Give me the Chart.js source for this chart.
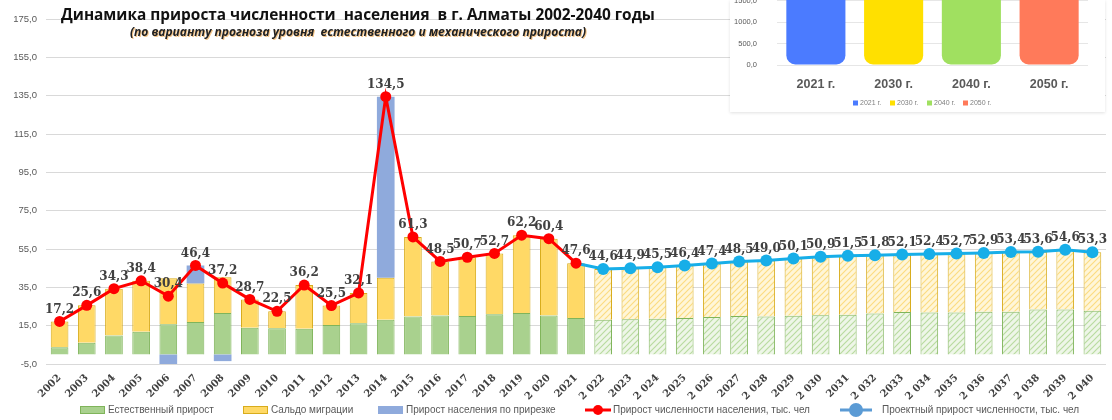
<!DOCTYPE html>
<html>
<head>
<meta charset="utf-8">
<script src="https://cdn.jsdelivr.net/npm/chart.js"></script>
<style>
  html, body { margin: 0; padding: 0; background: #fff; }
  #wrap { position: relative; width: 1112px; height: 420px; overflow: hidden; }
  #main { position: absolute; left: 0; top: 0; }
  #title { position: absolute; left: 0; top: 4px; width: 716px; text-align: center;
    font: bold 15.4px "Open Sans", "Liberation Sans", sans-serif; color: #111; white-space: pre; }
  #subtitle { position: absolute; left: 0; top: 23px; width: 716px; text-align: center;
    font: italic bold 12px "Open Sans", "Liberation Sans", sans-serif; color: #222; white-space: pre;
    text-shadow: 1px 1px 0 rgba(235, 150, 40, 0.55); }
  #insetBox { position: absolute; left: 730px; top: 0; width: 375px; height: 112px; background: #fff;
    overflow: hidden; box-shadow: 0 1px 3px rgba(0,0,0,0.12); }
  #inset { position: absolute; left: 0; top: -30px; }
</style>
</head>
<body>
<div id="wrap">
  <canvas id="main" width="1112" height="420"></canvas>
  <div id="title">Динамика прироста численности  населения  в г. Алматы 2002-2040 годы</div>
  <div id="subtitle">(по варианту прогноза уровня  естественного и механического прироста)</div>
  <div id="insetBox"><canvas id="inset" width="375" height="142"></canvas></div>
</div>
<script>
// categories
const years = ['2002','2003','2004','2005','2006','2007','2008','2009','2010','2011','2012','2013',
  '2014','2015','2016','2017','2018','2019','2 020','2021','2 022','2023','2 024','2025','2 026',
  '2027','2 028','2029','2 030','2031','2 032','2033','2 034','2035','2 036','2037','2 038','2039','2 040'];

// bars (тыс. чел)
const natural = [3.7, 6.1, 9.9, 11.8, 15.7, 16.9, 21.6, 13.9, 13.6, 13.4, 15.3, 16.2, 18.1, 19.8, 20.3,
  20.0, 20.9, 21.6, 20.3, 19.0,
  18.1, 18.4, 18.6, 19.0, 19.5, 20.0, 19.8, 20.2, 20.5, 20.7, 21.4, 22.1, 21.9, 21.9, 22.3, 22.3, 23.5, 23.5, 22.8];
const migration = [13.5, 19.5, 24.4, 26.6, 24.0, 20.1, 18.6, 14.8, 8.9, 22.8, 10.2, 15.9, 21.9, 41.5, 28.2,
  30.7, 31.8, 40.6, 40.1, 28.6,
  26.5, 26.5, 26.9, 27.4, 27.9, 28.5, 29.2, 29.9, 30.4, 30.8, 30.4, 30.0, 30.5, 30.8, 30.6, 31.1, 30.1, 31.1, 30.5];
const annexed = [null, null, null, null, -9.3, 9.4, -3.5, null, null, null, null, null, 94.5];

// lines
const totalGrowth = [17.2, 25.6, 34.3, 38.4, 30.4, 46.4, 37.2, 28.7, 22.5, 36.2, 25.5, 32.1, 134.5, 61.3,
  48.5, 50.7, 52.7, 62.2, 60.4, 47.6];
const projectGrowth = [null, null, null, null, null, null, null, null, null, null, null, null, null, null,
  null, null, null, null, null, 47.6,
  44.6, 44.9, 45.5, 46.4, 47.4, 48.5, 49.0, 50.1, 50.9, 51.5, 51.8, 52.1, 52.4, 52.7, 52.9, 53.4, 53.6, 54.6, 53.3];

const yTicks = { min: -5, max: 175, step: 20 };

// inset (cylinders are cut off at the top in the original)
const popYears = ['2021 г.', '2030 г.', '2040 г.', '2050 г.'];
const popValues = [2100, 2500, 2900, 3300];
const popTicks = { min: 0, max: 2000, step: 500 };

const firstProjected = 20;

function hatch(bg, fg) {
  const c = document.createElement('canvas');
  c.width = 6; c.height = 6;
  const g = c.getContext('2d');
  g.fillStyle = bg; g.fillRect(0, 0, 6, 6);
  g.strokeStyle = fg; g.lineWidth = 1.2;
  g.beginPath();
  g.moveTo(0, 6); g.lineTo(6, 0);
  g.moveTo(-3, 3); g.lineTo(3, -3);
  g.moveTo(3, 9); g.lineTo(9, 3);
  g.stroke();
  return g.createPattern(c, 'repeat');
}
const greenHatch = hatch('#eef6e8', '#b9dba0');
const yellowHatch = hatch('#fff6d8', '#fbdc82');
const greenFill = years.map((_, i) => i < firstProjected ? '#a9d18e' : greenHatch);
const yellowFill = years.map((_, i) => i < firstProjected ? '#ffd966' : yellowHatch);

const comma = v => v.toFixed(1).replace('.', ',');

const valueLabels = {
  id: 'valueLabels',
  afterDatasetsDraw(chart) {
    const ctx = chart.ctx;
    ctx.save();
    ctx.font = 'bold 12px "DejaVu Serif", serif';
    ctx.fillStyle = '#404040';
    ctx.textAlign = 'center';
    ctx.textBaseline = 'bottom';
    chart.data.datasets.forEach((ds, i) => {
      if (!ds.showValues) return;
      chart.getDatasetMeta(i).data.forEach((pt, j) => {
        const v = ds.data[j];
        if (v == null || j < ds.labelFrom) return;
        ctx.fillText(comma(v), pt.x, pt.y - 6);
      });
    });
    ctx.restore();
  }
};

// bottom legend, drawn by hand to keep the original spacing
const legendSlots = [80, 243, 378, 585, 840];
const bottomLegend = {
  id: 'bottomLegend',
  afterDraw(chart) {
    const ctx = chart.ctx;
    const y = 410;
    ctx.save();
    ctx.font = '10px "Liberation Sans", sans-serif';
    ctx.textBaseline = 'middle';
    chart.data.datasets.forEach((ds, i) => {
      const x = legendSlots[i];
      if (ds.type === 'line') {
        const col = ds.legendColor || ds.borderColor;
        const w = ds.legendLine;
        ctx.strokeStyle = col; ctx.lineWidth = 3;
        ctx.beginPath(); ctx.moveTo(x, y); ctx.lineTo(x + w, y); ctx.stroke();
        ctx.fillStyle = col;
        ctx.beginPath(); ctx.arc(x + w / 2, y, ds.legendDot, 0, Math.PI * 2); ctx.fill();
        ctx.fillStyle = '#595959';
        ctx.fillText(ds.label, x + w + ds.legendGap, y);
      } else {
        ctx.fillStyle = ds.legendColor;
        ctx.fillRect(x, y - 4, 25, 8);
        ctx.strokeStyle = ds.borderColor; ctx.lineWidth = 1;
        ctx.strokeRect(x + 0.5, y - 3.5, 24, 7);
        ctx.fillStyle = '#595959';
        ctx.fillText(ds.label, x + 28, y);
      }
    });
    ctx.restore();
  }
};

new Chart(document.getElementById('main'), {
  data: {
    labels: years,
    datasets: [
      { type: 'bar', label: 'Естественный прирост', data: natural, stack: 'bars', order: 2,
        backgroundColor: greenFill, legendColor: '#a9d18e', borderColor: '#7fb45a', borderWidth: 1,
        barPercentage: 0.65, categoryPercentage: 1 },
      { type: 'bar', label: 'Сальдо миграции', data: migration, stack: 'bars', order: 2,
        backgroundColor: yellowFill, legendColor: '#ffd966', borderColor: '#d8ac1c', borderWidth: 1,
        barPercentage: 0.65, categoryPercentage: 1 },
      { type: 'bar', label: 'Прирост населения по прирезке', data: annexed, stack: 'bars', order: 2,
        backgroundColor: '#8faadc', legendColor: '#8faadc', borderColor: '#8faadc', borderWidth: 0,
        barPercentage: 0.65, categoryPercentage: 1 },
      { type: 'line', label: 'Прирост численности населения, тыс. чел', data: totalGrowth, stack: 'red', order: 0,
        borderColor: '#ff0000', backgroundColor: '#ff0000', borderWidth: 3, pointRadius: 5.5,
        pointBorderWidth: 0, tension: 0, showValues: true, labelFrom: 0,
        legendDot: 5, legendLine: 26, legendGap: 2 },
      { type: 'line', label: 'Проектный прирост численности, тыс. чел', data: projectGrowth, stack: 'blue', order: 1,
        borderColor: '#17aee8', backgroundColor: '#17aee8', borderWidth: 3, legendColor: '#5b9bd5',
        pointRadius: years.map((_, i) => i < firstProjected ? 0 : 6), pointBorderWidth: 0, tension: 0,
        showValues: true, labelFrom: firstProjected,
        legendDot: 7, legendLine: 32, legendGap: 10 }
    ]
  },
  options: {
    responsive: false,
    animation: false,
    layout: { padding: { top: 19, right: 1, left: 0, bottom: 0 } },
    plugins: { legend: { display: false }, tooltip: { enabled: false } },
    scales: {
      x: {
        stacked: true,
        grid: { display: false },
        border: { display: false },
        ticks: { autoSkip: false, maxRotation: 45, minRotation: 45, color: '#404040', padding: 0,
          font: { family: '"DejaVu Serif", serif', weight: 'bold', size: 10 } },
        afterFit: s => { s.height = 56; }
      },
      y: {
        stacked: true,
        min: yTicks.min, max: yTicks.max,
        grid: { color: '#d9d9d9', lineWidth: 1, drawTicks: false },
        border: { display: false },
        ticks: { stepSize: yTicks.step, color: '#595959', padding: 9,
          font: { family: '"Liberation Sans", sans-serif', size: 9.5 },
          callback: v => comma(v) },
        afterFit: s => { s.width = 46; }
      }
    }
  },
  plugins: [valueLabels, bottomLegend]
});

// inset: 3D-like cylinders
const cylColors = [
  ['#2747c8', '#4b7bff', '#2a4bc0'],
  ['#c9a800', '#ffe000', '#b89400'],
  ['#5f9e2c', '#a0e060', '#5a9428'],
  ['#c84a30', '#ff7a5a', '#b8432c']
];
function cylinder(idx) {
  return ctx => {
    const el = ctx.element;
    const c = ctx.chart.ctx;
    if (!el || el.x == null || !el.width) return cylColors[idx][1];
    const l = el.x - el.width / 2, r = el.x + el.width / 2;
    const g = c.createLinearGradient(l, 0, r, 0);
    g.addColorStop(0, cylColors[idx][0]);
    g.addColorStop(0.55, cylColors[idx][1]);
    g.addColorStop(1, cylColors[idx][2]);
    return g;
  };
}
const insetLegendX = [123, 160, 197, 233];
const insetLegend = {
  id: 'insetLegend',
  afterDraw(chart) {
    const ctx = chart.ctx;
    const y = 133;
    ctx.save();
    ctx.font = '7px "Liberation Sans", sans-serif';
    ctx.textBaseline = 'middle';
    chart.data.datasets.forEach((ds, i) => {
      const x = insetLegendX[i];
      ctx.fillStyle = ds.legendColor;
      ctx.fillRect(x, y - 2.5, 5, 5);
      ctx.fillStyle = '#808080';
      ctx.fillText(ds.label, x + 7, y);
    });
    ctx.restore();
  }
};
// pin the inset plot area so that 0..2000 spans canvas y 95..9
const pinArea = {
  id: 'pinArea',
  afterLayout(chart) {
    const ys = chart.scales.y;
    chart.chartArea.top = 9;
    ys.top = 9;
    ys.height = ys.bottom - ys.top;
    ys.configure();
  }
};
new Chart(document.getElementById('inset'), {
  type: 'bar',
  data: {
    labels: popYears,
    datasets: popYears.map((name, i) => ({
      label: name,
      data: popYears.map((_, j) => j === i ? popValues[i] : null),
      backgroundColor: cylinder(i),
      legendColor: cylColors[i][1],
      grouped: false,
      barPercentage: 0.76, categoryPercentage: 1,
      borderRadius: { bottomLeft: 9, bottomRight: 9, topLeft: 0, topRight: 0 },
      borderSkipped: false
    }))
  },
  options: {
    responsive: false,
    animation: false,
    layout: { padding: { top: 9, right: 17, left: 0, bottom: 0 } },
    plugins: { tooltip: { enabled: false }, legend: { display: false } },
    scales: {
      x: {
        grid: { display: false }, border: { display: false },
        ticks: { color: '#595959', padding: 4,
          font: { family: '"Liberation Sans", sans-serif', weight: 'bold', size: 12.5 } },
        afterFit: s => { s.height = 47; }
      },
      y: {
        min: popTicks.min, max: popTicks.max,
        grid: { color: '#e6e6e6', drawTicks: false }, border: { display: false },
        ticks: { stepSize: popTicks.step, color: '#595959', padding: 20,
          font: { family: '"Liberation Sans", sans-serif', size: 7.5 },
          callback: v => comma(v) },
        afterFit: s => { s.width = 47; }
      }
    }
  },
  plugins: [pinArea, insetLegend]
});
</script>
</body>
</html>
